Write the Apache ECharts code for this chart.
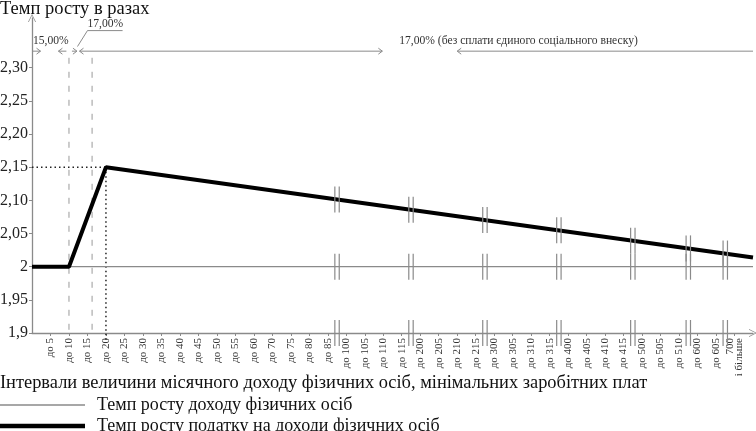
<!DOCTYPE html>
<html lang="uk">
  <head>
    <meta charset="UTF-8" />
    <title>Темп росту в разах</title>
    <style>
      * {
        margin: 0;
        padding: 0;
      }
      #main {
        width: 756px;
        height: 431px;
        background: #fff;
      }
    </style>
  </head>
  <body>
    <div id="main"></div>
    <script src="https://cdn.jsdelivr.net/npm/echarts@6/dist/echarts.min.js"></script>
    <script>
      // income intervals (tick 1..38 on the x axis)
      var categories = [
        "до 5", "до 10", "до 15", "до 20", "до 25", "до 30", "до 35", "до 40",
        "до 45", "до 50", "до 55", "до 60", "до 70", "до 75", "до 80", "до 85",
        "до 100", "до 105", "до 110", "до 115",
        "до 200", "до 205", "до 210", "до 215",
        "до 300", "до 305", "до 310", "до 315",
        "до 400", "до 405", "до 410", "до 415",
        "до 500", "до 505", "до 510",
        "до 600", "до 605",
        "700\nі більше",
      ];
      // y axis ticks
      var yTicks = [1.9, 1.95, 2, 2.05, 2.1, 2.15, 2.2, 2.25, 2.3];
      // series: [x position, value]
      var incomeGrowth = [[0, 2], [39, 2]];
      var taxGrowth = [[0, 2], [2, 2], [4, 2.15], [39, 2.014]];
      // axis breaks (between intervals)
      var breaks = [16.5, 20.5, 24.5, 28.5, 32.5, 35.5, 37.5];
      var seriesNames = [
        "Темп росту доходу фізичних осіб",
        "Темп росту податку на доходи фізичних осіб",
      ];

      var serif = "Liberation Serif";
      var gray = "#8a8a8a";

      var xTicks = categories.map(function (c, i) {
        return i + 1;
      });

      // y of the thick line at x (for placing the break marks on it)
      function taxAt(x) {
        for (var i = 1; i < taxGrowth.length; i++) {
          var a = taxGrowth[i - 1], b = taxGrowth[i];
          if (x <= b[0]) {
            return a[1] + ((b[1] - a[1]) * (x - a[0])) / (b[0] - a[0]);
          }
        }
        return taxGrowth[taxGrowth.length - 1][1];
      }

      function seg(p1, p2, style) {
        return {
          type: "line",
          shape: { x1: p1[0], y1: p1[1], x2: p2[0], y2: p2[1] },
          style: style,
        };
      }

      function head(p, dir) {
        return {
          type: "polyline",
          shape: {
            points: [
              [p[0] - dir * 4, p[1] - 3],
              p,
              [p[0] - dir * 4, p[1] + 3],
            ],
          },
          style: { stroke: gray, lineWidth: 1, fill: null },
        };
      }

      function txt(p, text) {
        return {
          type: "text",
          x: p[0],
          y: p[1],
          style: {
            text: text,
            font: "11.6px " + serif,
            fill: "#333",
            align: "left",
            verticalAlign: "middle",
          },
        };
      }

      // dashed / dotted guides and the percent arrows at the top
      function renderNotes(params, api) {
        var c = function (x, y) {
          return api.coord([x, y]);
        };
        var thin = { stroke: gray, lineWidth: 1 };
        var dash = { stroke: "#999", lineWidth: 1, lineDash: [6, 8] };
        var dot = { stroke: "#222", lineWidth: 1.5, lineDash: [1.5, 3] };
        var ay = 2.325;
        var kids = [
          seg(c(2, 2.315), c(2, 1.9), dash),
          seg(c(3.25, 2.315), c(3.25, 1.9), dash),
          seg(c(4, 2.15), c(4, 1.89), dot),
          seg(c(0, 2.15), c(4, 2.15), dot),
          // arrows
          seg(c(0, ay), c(0.46, ay), thin),
          head(c(0.46, ay), 1),
          seg(c(1.43, ay), c(1.86, ay), thin),
          head(c(1.43, ay), -1),
          seg(c(2.16, ay), c(2.43, ay), thin),
          head(c(2.43, ay), 1),
          seg(c(2.57, ay), c(18.95, ay), thin),
          head(c(2.57, ay), -1),
          head(c(18.95, ay), 1),
          seg(c(23, ay), c(39, ay), thin),
          head(c(23, ay), -1),
          // callout for the middle 17%
          seg(c(3.0, 2.356), c(4.9, 2.356), thin),
          seg(c(3.0, 2.356), c(2.46, 2.332), thin),
          txt(c(0.05, 2.34), "15,00%"),
          txt(c(3.0, 2.366), "17,00%"),
          txt(c(19.86, 2.341), "17,00% (без сплати єдиного соціального внеску)"),
        ];
        return { type: "group", children: kids };
      }

      function renderBreak(params, api) {
        var x = api.value(0);
        var ys = [1.9, 2, taxAt(x)];
        var kids = [];
        ys.forEach(function (y) {
          var p = api.coord([x, y]);
          [-2.2, 2.2].forEach(function (d) {
            kids.push(
              seg([p[0] + d, p[1] - 13], [p[0] + d, p[1] + 13], {
                stroke: gray,
                lineWidth: 1.2,
              })
            );
          });
        });
        return { type: "group", children: kids };
      }

      var chevron = "path://M0,10 L5,0 L10,10 L9,10 L5,2 L1,10 Z";
      var legendText = { fontFamily: serif, fontSize: 18, color: "#111", padding: [0, 0, 0, 7] };

      var myChart = echarts.init(document.getElementById("main"));
      myChart.setOption({
        animation: false,
        title: [
          {
            text: "Темп росту в разах",
            left: 0,
            top: 0,
            padding: 0,
            textStyle: { fontFamily: serif, fontSize: 18.5, fontWeight: "normal", color: "#111" },
          },
          {
            text: "Інтервали величини місячного доходу фізичних осіб, мінімальних заробітних плат",
            left: 0,
            top: 374,
            padding: 0,
            textStyle: { fontFamily: serif, fontSize: 18.4, fontWeight: "normal", color: "#111" },
          },
        ],
        legend: [
          {
            left: 0,
            top: 396,
            padding: 0,
            icon: "rect",
            itemWidth: 85,
            itemHeight: 1.4,
            textStyle: legendText,
            data: [seriesNames[0]],
          },
          {
            left: 0,
            top: 417,
            padding: 0,
            icon: "rect",
            itemWidth: 85,
            itemHeight: 4.5,
            textStyle: legendText,
            data: [seriesNames[1]],
          },
        ],
        grid: { left: 32, right: 3, top: 18, bottom: 98, outerBoundsMode: "none" },
        xAxis: {
          type: "value",
          min: 0,
          max: 39,
          splitLine: { show: false },
          axisLine: {
            lineStyle: { color: gray, width: 1.3 },
            symbol: ["none", chevron],
            symbolSize: [8, 9],
          },
          axisTick: {
            customValues: xTicks,
            length: 3,
            lineStyle: { color: gray },
          },
          axisLabel: {
            customValues: xTicks,
            rotate: 90,
            margin: 5,
            fontFamily: serif,
            fontSize: 11,
            lineHeight: 9,
            color: "#333",
            formatter: function (v) {
              return categories[Math.round(v) - 1] || "";
            },
          },
        },
        yAxis: {
          type: "value",
          min: 1.9,
          max: 2.375,
          splitLine: { show: false },
          axisLine: {
            lineStyle: { color: gray, width: 1.3 },
            symbol: ["none", chevron],
            symbolSize: [8, 9],
          },
          axisTick: {
            customValues: yTicks,
            length: 3,
            lineStyle: { color: gray },
          },
          axisLabel: {
            customValues: yTicks,
            margin: 4,
            fontFamily: serif,
            fontSize: 16,
            color: "#222",
            formatter: function (v) {
              if (Math.abs(v - 2) < 1e-9) return "2";
              if (Math.abs(v - 1.9) < 1e-9) return "1,9";
              return v.toFixed(2).replace(".", ",");
            },
          },
        },
        series: [
          {
            name: seriesNames[0],
            type: "line",
            data: incomeGrowth,
            symbol: "none",
            lineStyle: { color: gray, width: 1.3 },
            itemStyle: { color: gray },
            z: 2,
          },
          {
            name: seriesNames[1],
            type: "line",
            data: taxGrowth,
            symbol: "none",
            lineStyle: { color: "#000", width: 4 },
            itemStyle: { color: "#000" },
            z: 3,
          },
          {
            type: "custom",
            renderItem: renderNotes,
            data: [[0, 2]],
            silent: true,
            z: 1,
          },
          {
            type: "custom",
            renderItem: renderBreak,
            data: breaks.map(function (b) {
              return [b];
            }),
            encode: { x: 0 },
            silent: true,
            z: 4,
          },
        ],
      });
    </script>
  </body>
</html>
